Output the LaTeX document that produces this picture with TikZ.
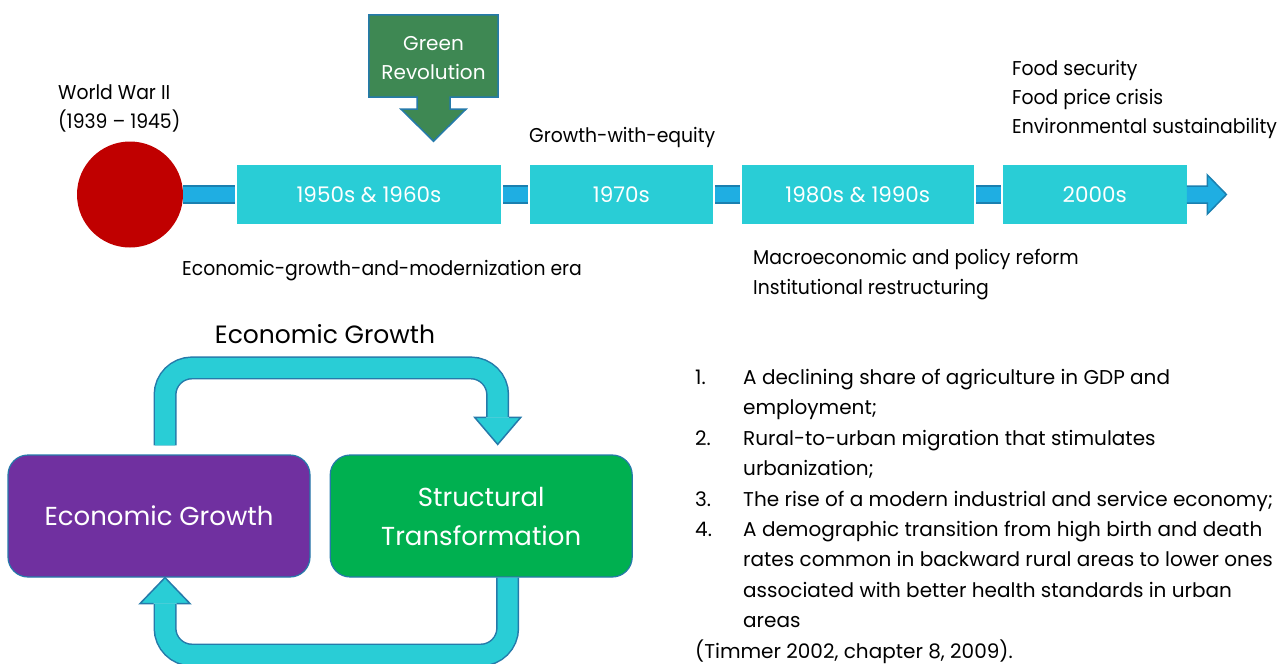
\documentclass[tikz,border=0pt]{standalone}
\usepackage{fontspec}
\setmainfont{Poppins}
\newfontfamily\narrowfont{Poppins}[FakeStretch=0.94,Ligatures=TeX]
\usepackage{tikz}
\usetikzlibrary{positioning,calc,backgrounds}
\definecolor{boxcyan}{RGB}{41,205,214}
\definecolor{barblue}{RGB}{31,174,226}
\definecolor{bardark}{RGB}{26,128,176}
\definecolor{warred}{RGB}{192,0,0}
\definecolor{revgreen}{RGB}{62,136,83}
\definecolor{edgeblue}{RGB}{37,122,170}
\definecolor{egpurple}{RGB}{112,48,160}
\definecolor{stgreen}{RGB}{0,176,80}
\tikzset{era node/.style={rectangle,fill=boxcyan,text=white,minimum height=59pt,inner sep=0pt,font=\fontsize{21.5}{24}\selectfont},
  plain text/.style={anchor=west,inner sep=0pt,align=left,font=\narrowfont\fontsize{20}{29}\selectfont},
  cycle node/.style={rectangle,rounded corners=20pt,draw=edgeblue,line width=1.2pt,text=white,minimum width=302pt,minimum height=122pt,inner sep=0pt,align=center,font=\fontsize{26}{39}\selectfont},
  time bar/.style={draw=bardark,line width=2pt,double=barblue,double distance=15pt},
  loop band/.style={draw=edgeblue,line width=1.5pt,double=boxcyan,double distance=20pt,rounded corners=27pt},
  loop head/.style={draw=edgeblue,line width=1.5pt,fill=boxcyan,line join=miter},}

\begin{document}
\begin{tikzpicture}[x=1pt, y=-1pt, node distance=28.5pt]
	\useasboundingbox (0,0) rectangle (1286,664);
	% timeline
	\node[circle, fill=warred, minimum size=106pt, inner sep=0pt] (ww) at (130,194.5) {};
	\node[era node, minimum width=264pt] (e50) at (369,194.5) {1950s \& 1960s};
	\node[era node, minimum width=183pt] (e70) [right = of e50] {1970s};
	\node[era node, minimum width=232pt] (e80) [right = of e70] {1980s \& 1990s};
	\node[era node, minimum width=184pt] (e00) [right = of e80] {2000s};

	\draw[time bar, shorten >=2pt] (ww.east) -- (e50.west);
	\draw[time bar, shorten <=2pt, shorten >=2pt] (e50.east) -- (e70.west);
	\draw[time bar, shorten <=2pt, shorten >=2pt] (e70.east) -- (e80.west);
	\draw[time bar, shorten <=2pt, shorten >=2pt] (e80.east) -- (e00.west);
	\coordinate (tip) at ($(e00.east)+(39.5,0)$);
	\draw[draw=bardark, fill=barblue, line width=1.5pt] ($(e00.east)+(0,-8.5)$) -- ++(20.5,0) -- ++(0,-11) -- (tip) -- ($(e00.east)+(20.5,19.5)$) -- ++(0,-11) -- ($(e00.east)+(0,8.5)$);

	\node[plain text] (wwlbl) at (58,108.5) {World War II\\(1939 – 1945)};
	\node[plain text] (gwe) at (529,137) {Growth-with-equity};
	\node[plain text] (egm) at (182,271) {Economic-growth-and-modernization era};
	\node[plain text, font=\narrowfont\fontsize{20}{30}\selectfont] (mpr) at (753,275) {Macroeconomic and policy reform\\Institutional restructuring};
	\node[plain text] (fsc) at (1012,99) {Food security\\Food price crisis\\Environmental sustainability};

	% green revolution callout
	\node[text=white, minimum width=129pt, minimum height=82pt, inner sep=0pt, align=center, font=\fontsize{20}{29}\selectfont] (gr) at (433.5,58) {Green\\Revolution};
	\begin{scope}[on background layer]
		\draw[fill=revgreen, draw=edgeblue, line width=1.5pt] ($(gr.north west)+(0,-2)$) -- ($(gr.north east)+(0,-2)$) -- ($(gr.south east)+(0,-2)$) -- ($(gr.south)+(16.5,-2)$) -- ++(0,12) -- ++(16,0) -- ++(-32.5,32) -- ++(-32.5,-32) -- ++(16,0) -- ++(0,-12) -- ($(gr.south west)+(0,-2)$) -- cycle;
	\end{scope}

	% growth and transformation loop
	\node[plain text, anchor=center, font=\fontsize{25}{30}\selectfont] (title) at (325,334) {Economic Growth};
	\node[cycle node, fill=egpurple] (eg) at (159,516) {Economic Growth};
	\node[cycle node, fill=stgreen] (st) [right = 19pt of eg] {Structural\\Transformation};

	\coordinate (up start) at ($(eg.north)+(6,-9)$);
	\coordinate (up end) at ($(st.north)+(16.5,-37)$);
	\draw[loop band] (up start) -- ++(0,-77.5) -| (up end);
	\draw[loop head] ($(up end)+(11.5,0)$) -- ++(11.5,0) -- ($(st.north)+(16.5,-10)$) -- ($(up end)+(-23,0)$) -- ++(11.5,0);

	\coordinate (lo start) at ($(st.south)+(26.5,0)$);
	\coordinate (lo end) at ($(eg.south)+(6,26)$);
	\draw[loop band] (lo start) -- ++(0,77.5) -| (lo end);
	\draw[loop head] ($(lo end)+(11.5,0)$) -- ++(13.5,0) -- ($(eg.south)+(6,0)$) -- ($(lo end)+(-25,0)$) -- ++(13.5,0);

	% list of features
	\node[anchor=north west, inner sep=0pt, font=\fontsize{20}{30.4}\selectfont] (facts) at (695,363) {%
		\begin{tabular}{@{}p{48pt}@{}l@{}}
			1. & A declining share of agriculture in GDP and\\
			& employment;\\
			2. & Rural-to-urban migration that stimulates\\
			& urbanization;\\
			3. & The rise of a modern industrial and service economy;\\
			4. & A demographic transition from high birth and death\\
			& rates common in backward rural areas to lower ones\\
			& associated with better health standards in urban\\
			& areas\\
			\multicolumn{2}{@{}l@{}}{(Timmer 2002, chapter 8, 2009).}
		\end{tabular}};
\end{tikzpicture}
\end{document}
